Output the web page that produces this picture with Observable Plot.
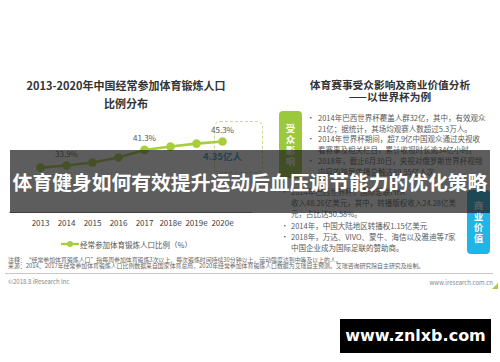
<!DOCTYPE html>
<html><head><meta charset="utf-8">
<script src="https://cdn.jsdelivr.net/npm/d3@7"></script>
<script src="https://cdn.jsdelivr.net/npm/@observablehq/plot@0.6"></script>
<style>
html,body{margin:0;padding:0;background:#fff;}
#page{position:relative;width:500px;height:362px;overflow:hidden;font-family:"Noto Sans CJK SC","Noto Sans",sans-serif;color:#333;}
.abs{position:absolute;white-space:nowrap;}
</style></head>
<body><div id="page"></div>
<script>
// ---- data ----
const years = ["2013","2014","2015","2016","2017","2018e","2019e","2020e"];
const shares = [32.9, 33.9, 35.3, 37.7, 41.3, 42.9, 44.3, 45.3];
const labelledYears = ["2014","2017","2020e"];
const people2020 = "4.35亿人";
const seriesName = "经常参加体育锻炼人口比例（%）";
const leftTitle = ["2013-2020年中国经常参加体育锻炼人口","比例分布"];
const rightTitle = ["体育赛事受众影响及商业价值分析","——以世界杯为例"];
const audienceLines = [
  ["•","2014年巴西世界杯覆盖人群32亿，其中，有效观众"],
  ["","21亿；据统计，其场均观赛人数超过5.3万人。"],
  ["•","2014年世界杯期间，超7.9亿中国观众通过央视收"],
  ["","看赛事及相关栏目，累计收视时长逾34亿小时。"],
  ["•","2018年，截止6月30日，央视对俄罗斯世界杯视频"],
  ["","内容的跨屏传播总触达89.55亿人次。"]
];
const businessLines = [
  ["•","2014年巴西世界杯，国际足联FIFA"],
  ["","收入48.26亿美元，其中，转播版权收入24.28亿美"],
  ["","元，占比达50.58%。"],
  ["•","2014年，中国大陆地区转播权1.15亿美元"],
  ["•","2018年，万达、VIVO、蒙牛、海信以及雅迪等7家"],
  ["","中国企业成为国际足联的赞助商。"]
];
const notes = [
  "注释：“经常参加体育锻炼人口”指每周参加体育锻炼3次以上，每次锻炼时间持续30分钟以上，运动强度达到中等及以上的人。",
  "来源：2014、2017年经常参加体育锻炼人口比例数据来自国家体育总局，2020年经常参加体育锻炼人口数据为艾瑞自主预测。艾瑞咨询研究院自主研究及绘制。"
];
const audienceTag = "受众影响";
const businessTag = "商业价值";
const copyright = "©2018.8 iResearch Inc";
const site = "www.iresearch.com.cn";
const bannerText = "体育健身如何有效提升运动后血压调节能力的优化策略";
const watermark = "www.znlxb.com";

const lime = "#a8cf3a";
const rows = years.map((y,i)=>({year:y, share:shares[i]}));
const page = document.getElementById("page");

function el(css, html){const d=document.createElement("div");d.className="abs";d.style.cssText=css;if(html!==undefined)d.innerHTML=html;page.appendChild(d);return d;}

// titles
leftTitle.forEach((t,i)=>el(`left:0;width:252px;text-align:center;top:${85+i*18-8}px;line-height:16px;font-size:11px;font-weight:bold;color:#333;`, t));
rightTitle.forEach((t,i)=>el(`left:290px;width:200px;text-align:center;top:${85+i*12-6}px;line-height:12px;font-size:10.7px;font-weight:bold;color:#333;`, t));

// dashed annotation box
el(`left:214px;top:121px;width:47px;height:50px;border:1.2px dashed #c9da8f;border-radius:6px;`);

// chart
const chart = Plot.plot({
  width: 260, height: 132,
  marginLeft: 9, marginRight: 8, marginTop: 0, marginBottom: 20,
  style: {fontFamily: '"Noto Sans CJK SC", sans-serif', background: "transparent", overflow: "visible"},
  x: {type: "point", domain: years, range: [24, 237], label: null, tickSize: 0, tickPadding: 8},
  y: {domain: [11.6, 50], range: [112, 31.1], axis: null},
  marks: [
    Plot.ruleY([11.6], {stroke: "#9a9a9a", strokeWidth: 1}),
    Plot.axisX({tickSize: 0, tickPadding: 8, fontSize: 8, fill: "#404040", label: null}),
    Plot.line(rows, {x: "year", y: "share", stroke: lime, strokeWidth: 2.6}),
    Plot.dot(rows, {x: "year", y: "share", r: 3.6, fill: lime, stroke: lime}),
    Plot.text(rows.filter(d=>labelledYears.includes(d.year)), {x: "year", y: "share", text: d=>d.share.toFixed(1)+"%", dy: -11, fontSize: 8, fill: "#555"}),
    Plot.text(rows.filter(d=>d.year==="2020e"), {x: "year", y: "share", text: ()=>people2020, dy: 15, fontSize: 9.5, fontWeight: "bold", fill: "#1c9fd6"})
  ]
});
const holder = el("left:0;top:100px;");
holder.appendChild(chart);

// legend
el(`left:61px;top:238px;height:12px;display:flex;align-items:center;font-size:7.5px;color:#555;`,
  `<svg width="18" height="12"><line x1="0" y1="6" x2="18" y2="6" stroke="${lime}" stroke-width="2.4"/><circle cx="9" cy="6" r="3" fill="${lime}"/></svg><span style="margin-left:1px">${seriesName}</span>`);

// notes
notes.forEach((t,i)=>el(`left:8px;top:${260+i*6-3}px;line-height:6px;font-size:5.9px;color:#666;`, t));
// footer
el(`left:5px;top:273px;width:488px;height:0;border-top:1px solid #c8c8c8;`);
el(`left:8px;top:277px;line-height:9px;font-size:6px;color:#888;`, copyright);
el(`right:7px;top:278px;line-height:9px;font-size:6px;color:#888;`, site);
el(`left:492px;top:283px;width:0;height:0;border-left:6px solid transparent;border-bottom:6px solid ${lime};`);

// right tags
el(`left:279px;top:111px;width:23px;height:67px;background:#9bc83c;border-radius:4px;`);
audienceTag.split("").forEach((c,i)=>el(`left:279px;width:23px;text-align:center;top:${128+i*11.3-5.5}px;line-height:11px;font-size:9.5px;font-weight:bold;color:#fff;`, c));
el(`left:467px;top:190px;width:23px;height:64px;background:#22b4e6;border-radius:4px;`);
businessTag.split("").forEach((c,i)=>el(`left:467px;width:23px;text-align:center;top:${205+i*11.3-5.5}px;line-height:11px;font-size:9.5px;font-weight:bold;color:#fff;`, c));

// bullet texts
audienceLines.forEach((l,i)=>{
  const cy = 118 + i*10.8;
  if(l[0]) el(`left:307px;top:${cy-5.2}px;line-height:10.4px;font-size:7.5px;color:#595959;`, l[0]);
  el(`left:318px;top:${cy-5.2}px;line-height:10.4px;font-size:7.5px;color:#595959;`, l[1]);
});
businessLines.forEach((l,i)=>{
  const cy = 192 + i*11.3;
  if(l[0]) el(`left:281px;top:${cy-5.2}px;line-height:10.4px;font-size:7.5px;color:#595959;`, l[0]);
  el(`left:291px;top:${cy-5.2}px;line-height:10.4px;font-size:7.5px;color:#595959;`, l[1]);
});

// banner overlay
el(`left:10px;top:150px;width:480px;height:63px;background:rgba(30,30,30,0.72);`);
el(`left:10px;top:150px;width:480px;height:63px;line-height:63px;text-align:center;font-size:19.8px;font-weight:bold;color:#fff;letter-spacing:0px;`, bannerText);

// watermark
el(`left:340px;top:319px;width:151px;height:34px;background:#000;color:#fff;text-align:center;line-height:34px;font-family:"DejaVu Sans",sans-serif;font-weight:bold;font-size:16px;`, watermark);
</script>
</body></html>
